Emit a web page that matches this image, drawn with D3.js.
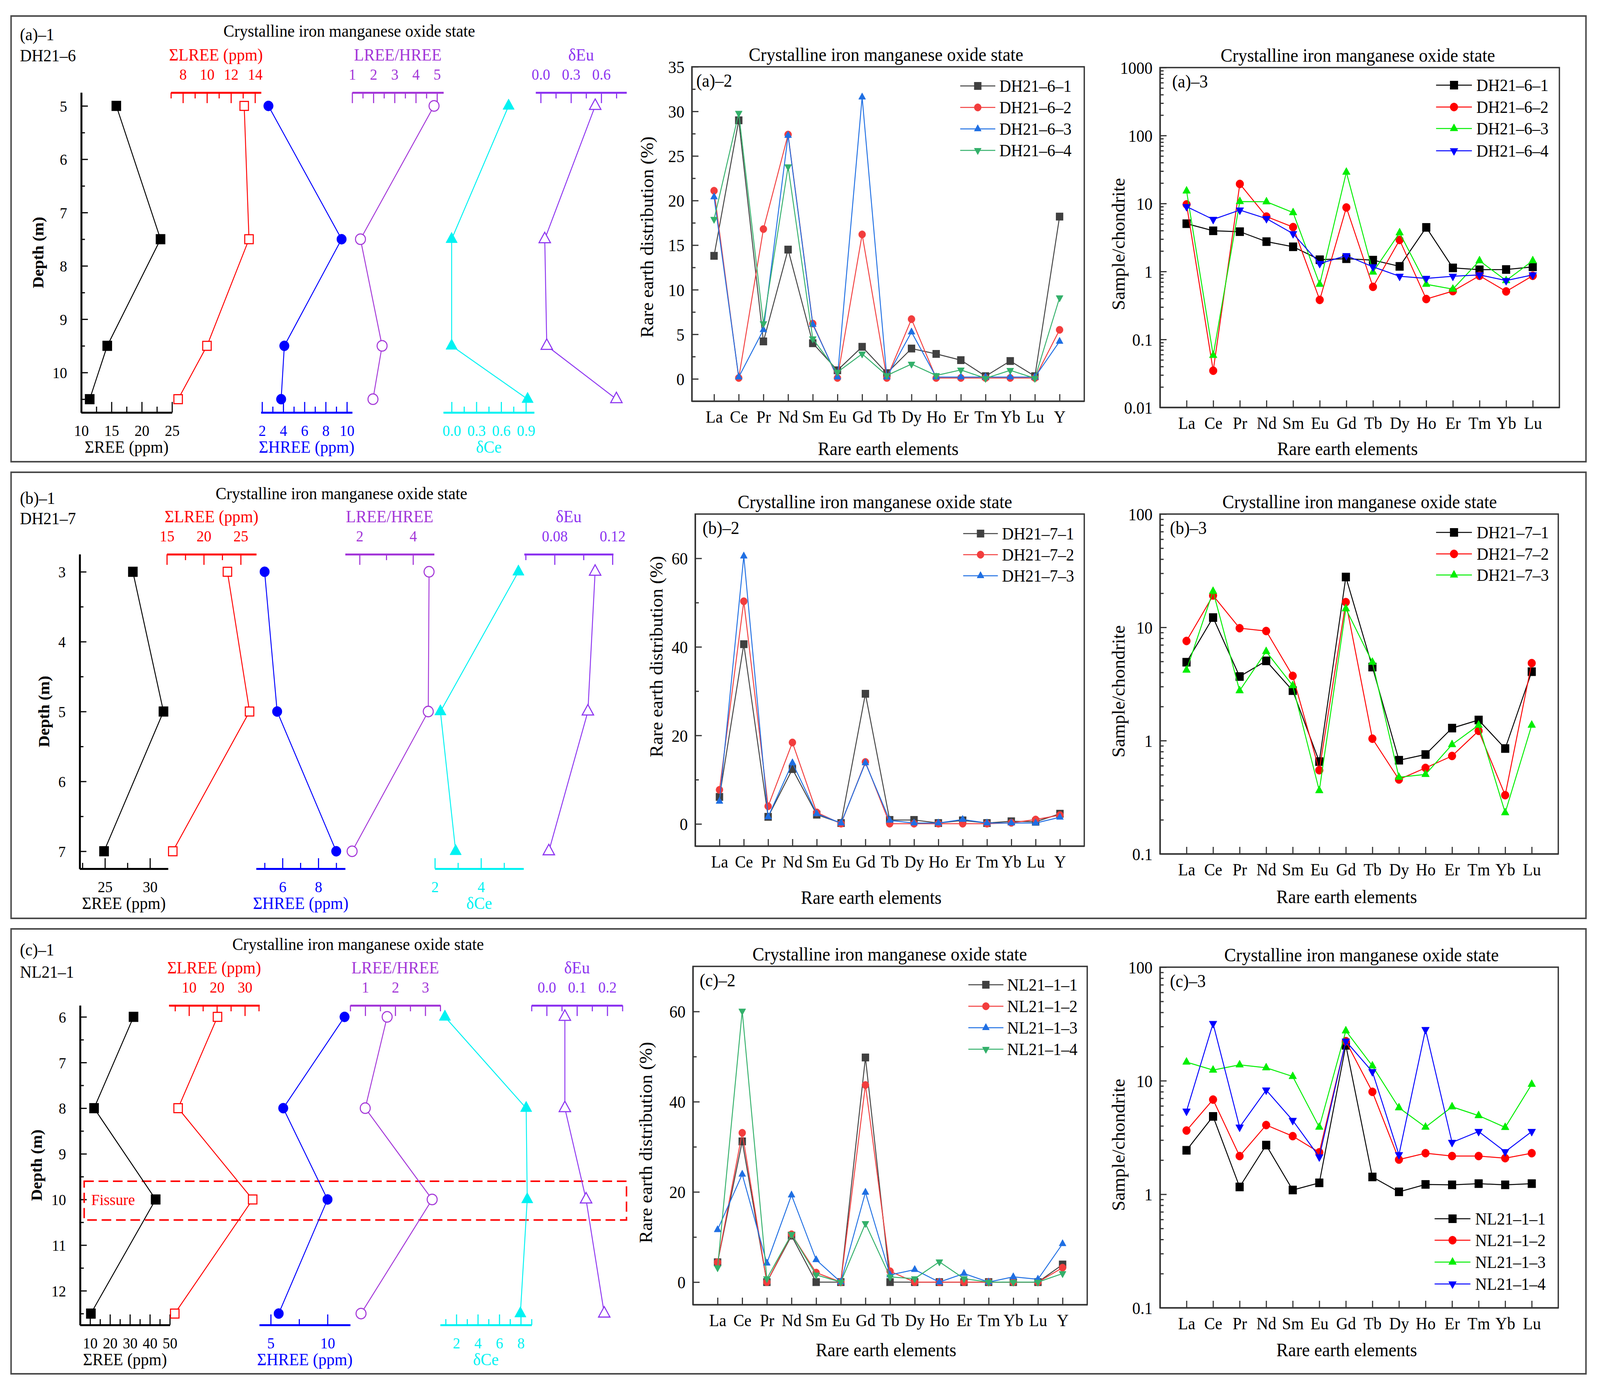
<!DOCTYPE html>
<html><head><meta charset="utf-8">
<script src="https://cdn.jsdelivr.net/npm/d3@7"></script>
<style>html,body{margin:0;padding:0;overflow:hidden;background:#fff}svg{display:block;width:100vw;height:100vh}</style>
</head><body>
<svg id="c" viewBox="0 0 4334 3561" preserveAspectRatio="none"></svg>
<script>
// ---------------- DATA ----------------
const elements15 = ["La","Ce","Pr","Nd","Sm","Eu","Gd","Tb","Dy","Ho","Er","Tm","Yb","Lu","Y"];
const elements14 = ["La","Ce","Pr","Nd","Sm","Eu","Gd","Tb","Dy","Ho","Er","Tm","Yb","Lu"];

// (a)-1 DH21-6 depth profiles
const depthA = [5, 7.5, 9.5, 10.5];
const reeA   = [15.8, 23.1, 14.3, 11.4];
const lreeA  = [13.1, 13.5, 10.0, 7.6];
const hreeA  = [2.6, 9.5, 4.1, 3.8];
const ratioA = [4.86, 1.39, 2.41, 1.98];
const ceA    = [0.69, 0.0, 0.0, 0.92];
const euA    = [0.54, 0.04, 0.06, 0.75];

// (b)-1 DH21-7 depth profiles
const depthB = [3, 5, 7];
const reeB   = [28.1, 31.5, 24.9];
const lreeB  = [23.2, 26.2, 15.8];
const hreeB  = [5.0, 5.7, 9.0];
const ratioB = [4.6, 4.57, 1.72];
const ceB    = [5.62, 2.24, 2.9];
const euB    = [0.108, 0.103, 0.076];

// (c)-1 NL21-1 depth profiles
const depthC = [6, 8, 10, 12.5];
const reeC   = [31.8, 12.0, 42.9, 10.4];
const lreeC  = [20.2, 6.1, 32.8, 4.9];
const hreeC  = [11.5, 6.1, 10.0, 5.7];
const ratioC = [1.73, 1.0, 3.23, 0.86];
const ceC    = [0.93, 8.5, 8.6, 7.96];
const euC    = [0.06, 0.06, 0.13, 0.19];
const fissureDepth = [9.6, 10.45];

// (a)-2 distribution (%)
const dA2_1 = [13.8, 29.0, 4.2, 14.5, 4.0, 0.96, 3.6, 0.64, 3.4, 2.8, 2.1, 0.3, 2.0, 0.3, 18.2];
const dA2_2 = [21.1, 0.1, 16.8, 27.4, 6.2, 0.1, 16.2, 0.1, 6.7, 0.1, 0.1, 0.1, 0.1, 0.1, 5.5];
const dA2_3 = [20.4, 0.2, 5.5, 27.3, 6.1, 0.2, 31.6, 0.2, 5.25, 0.2, 0.2, 0.2, 0.2, 0.2, 4.2];
const dA2_4 = [17.9, 29.8, 6.2, 23.8, 4.5, 0.76, 2.8, 0.38, 1.66, 0.38, 1.0, 0.06, 0.96, 0.06, 9.1];
// (a)-3 chondrite normalised
const nA3_1 = [5.05, 3.97, 3.85, 2.75, 2.31, 1.49, 1.54, 1.47, 1.19, 4.45, 1.13, 1.06, 1.07, 1.17];
const nA3_2 = [9.7, 0.0347, 19.4, 6.42, 4.5, 0.382, 8.74, 0.594, 2.91, 0.393, 0.514, 0.865, 0.509, 0.865];
const nA3_3 = [15.3, 0.0583, 10.7, 10.6, 7.35, 0.648, 28.9, 0.98, 3.71, 0.648, 0.55, 1.44, 0.735, 1.44];
const nA3_4 = [9.0, 5.83, 8.0, 6.0, 3.6, 1.31, 1.71, 1.17, 0.85, 0.79, 0.85, 0.89, 0.735, 0.89];

// (b)-2
const dB2_1 = [6.1, 40.6, 1.6, 12.4, 2.1, 0.2, 29.4, 0.9, 0.9, 0.2, 0.8, 0.2, 0.6, 0.5, 2.3];
const dB2_2 = [7.7, 50.3, 4.0, 18.4, 2.6, 0.06, 14.0, 0.06, 0.06, 0.06, 0.06, 0.06, 0.26, 1.0, 2.0];
const dB2_3 = [5.1, 60.5, 1.6, 13.8, 2.3, 0.2, 13.8, 0.8, 0.2, 0.2, 1.0, 0.2, 0.2, 0.2, 1.5];
// (b)-3
const nB3_1 = [4.92, 12.2, 3.68, 5.06, 2.76, 0.653, 27.8, 4.46, 0.671, 0.754, 1.29, 1.52, 0.851, 4.06];
const nB3_2 = [7.58, 19.1, 9.83, 9.28, 3.73, 0.548, 16.7, 1.04, 0.454, 0.574, 0.732, 1.22, 0.330, 4.83];
const nB3_3 = [4.19, 20.8, 2.76, 6.12, 3.06, 0.362, 14.6, 4.92, 0.475, 0.503, 0.923, 1.37, 0.231, 1.37];

// (c)-2
const dC2_1 = [4.4, 31.2, 0, 10.3, 0, 0, 49.8, 0, 0, 0, 0, 0, 0, 0, 3.9];
const dC2_2 = [4.4, 33.1, 0, 10.6, 2.1, 0, 43.7, 2.4, 0, 0, 0, 0, 0, 0, 3.2];
const dC2_3 = [11.6, 23.9, 4.2, 19.3, 4.95, 0, 19.9, 1.6, 2.77, 0, 1.9, 0, 1.16, 0.64, 8.5];
const dC2_4 = [3.2, 60.1, 0.77, 10.6, 1.6, 0, 13.0, 1.16, 0.77, 4.5, 0.77, 0, 0, 0, 1.9];
// (c)-3
const nC3_1 = [2.44, 4.85, 1.16, 2.71, 1.09, 1.26, 20.5, 1.42, 1.05, 1.22, 1.21, 1.24, 1.21, 1.24];
const nC3_2 = [3.64, 6.82, 2.17, 4.07, 3.25, 2.34, 22.3, 7.98, 2.02, 2.30, 2.17, 2.17, 2.08, 2.30];
const nC3_3 = [14.6, 12.4, 13.8, 13.0, 10.9, 3.90, 27.5, 13.5, 5.78, 3.90, 5.89, 4.93, 3.88, 9.30];
const nC3_4 = [5.39, 31.9, 3.90, 8.27, 4.47, 2.13, 22.3, 12.0, 2.23, 28.2, 2.86, 3.57, 2.37, 3.57];

// tick values
const pctTicks35 = [0, 5, 10, 15, 20, 25, 30, 35];
const pctMinor35 = [2.5, 7.5, 12.5, 17.5, 22.5, 27.5, 32.5];
const pctTicks70 = [0, 20, 40, 60];
const pctMinor70 = [10, 30, 50];
const logTicks3 = [0.01, 0.1, 1, 10, 100, 1000];
const logTicks2 = [0.1, 1, 10, 100];

// ---------------- DRAWING ----------------
const FONT = "'Liberation Serif','Times New Roman',serif";
const AXIS = "#333333";
const RED = "#ff0000", BLUE = "#0000ff", PURP = "#a336d8", VIOL = "#8c33f0", CYAN = "#00f2f2";
const svg = d3.select("#c");

function marker(g, type, x, y, s, color, open) {
  let el;
  if (type === "square") el = g.append("rect").attr("x", x - s/2).attr("y", y - s/2).attr("width", s).attr("height", s);
  else if (type === "circle") el = g.append("circle").attr("cx", x).attr("cy", y).attr("r", s/2);
  else {
    const h = s * 0.866, u = type === "triUp" ? 1 : -1;
    const pts = [[x, y - u*h*2/3], [x - s/2, y + u*h/3], [x + s/2, y + u*h/3]];
    el = g.append("path").attr("d", "M" + pts.map(p => p.join(",")).join("L") + "Z");
  }
  el.attr("fill", open ? "#fff" : color).attr("stroke", color).attr("stroke-width", open ? 2.8 : 1);
}

function styleAxis(g, color, fs, sw) {
  g.attr("font-family", FONT).attr("font-size", fs).style("color", color);
  g.select(".domain").attr("stroke-width", sw);
  g.selectAll(".tick line").attr("stroke-width", 3);
}

function txt(g, x, y, s, o = {}) {
  const t = g.append("text").attr("x", x).attr("y", y).attr("dy", "0.35em")
    .attr("font-family", FONT).attr("font-size", o.fs || 44).attr("fill", o.color || "#000")
    .attr("text-anchor", o.anchor || "middle").text(s);
  if (o.bold) t.attr("font-weight", "bold");
  if (o.rot) t.attr("transform", `rotate(-90,${x},${y})`);
  return t;
}

function depthPanel(p) {
  const g = svg.append("g");
  const y = d3.scaleLinear().domain(p.depthDomain).range([p.yTop, p.yBot]);
  const dm = g.append("g").attr("transform", `translate(${p.x0},0)`)
    .call(d3.axisLeft(y).tickValues(p.depthMinor).tickSize(-10).tickSizeOuter(0).tickFormat(""));
  styleAxis(dm, "#000", 40, 5);
  const dM = g.append("g").attr("transform", `translate(${p.x0},0)`)
    .call(d3.axisLeft(y).tickValues(p.depthMajor).tickSize(-18).tickSizeOuter(0).tickFormat(d3.format("d")));
  styleAxis(dM, "#000", 40, 5);
  dM.selectAll(".tick text").attr("x", -38).attr("dy", "0.35em");
  txt(g, p.depthLabelX, (p.yTop + p.yBot) / 2, "Depth (m)", {fs: 42, bold: true, rot: true});
  txt(g, p.titleX, p.titleY, "Crystalline iron manganese oxide state", {fs: 44});
  txt(g, 54, p.labY[0], p.label, {anchor: "start"});
  txt(g, 54, p.labY[1], p.site, {anchor: "start"});

  if (p.fissure) {
    g.append("rect").attr("x", 228).attr("y", y(p.fissure[0])).attr("width", 1697 - 228)
      .attr("height", y(p.fissure[1]) - y(p.fissure[0])).attr("fill", "none")
      .attr("stroke", RED).attr("stroke-width", 4).attr("stroke-dasharray", "26,13");
    txt(g, 247, y(10), "Fissure", {anchor: "start", color: RED, fs: 41});
  }

  p.tracks.forEach(t => {
    const x = d3.scaleLinear().domain(t.domain).range(t.range);
    const top = t.side === "top";
    const ay = top ? p.yTop : p.yBot;
    const af = top ? d3.axisTop : d3.axisBottom;
    const mi = g.append("g").attr("transform", `translate(0,${ay})`)
      .call(af(x).tickValues(t.minor).tickSize(-15).tickSizeOuter(0).tickFormat(""));
    styleAxis(mi, t.color, 40, 5);
    const ma = g.append("g").attr("transform", `translate(0,${ay})`)
      .call(af(x).tickValues(t.major).tickSize(-27).tickSizeOuter(0).tickFormat(d3.format(t.fmt)));
    styleAxis(ma, t.color, 40, 5);
    ma.selectAll(".tick text").attr("y", top ? -47 : 46).attr("dy", "0.35em");
    txt(g, (t.range[0] + t.range[1]) / 2, top ? ay - 97 : ay + 88, t.title, {color: t.color, fs: 44});
    g.append("path").datum(t.values).attr("fill", "none").attr("stroke", t.color).attr("stroke-width", 2.5)
      .attr("d", d3.line().x(d => x(d)).y((d, i) => y(p.depths[i])));
    t.values.forEach((v, i) => marker(g, t.marker, x(v), y(p.depths[i]), t.ms, t.color, t.open));
  });
}

function lineChart(c) {
  const g = svg.append("g");
  const x = d3.scaleLinear().domain(c.xDomain).range([c.x0, c.x1]);
  const y = (c.log ? d3.scaleLog() : d3.scaleLinear()).domain(c.yDomain).range([c.y1, c.y0]);
  g.append("rect").attr("x", c.x0).attr("y", c.y0).attr("width", c.x1 - c.x0).attr("height", c.y1 - c.y0)
    .attr("fill", "none").attr("stroke", AXIS).attr("stroke-width", 3.5);
  let minor = c.yMinor;
  if (c.log) {
    minor = [];
    for (let e = Math.log10(c.yDomain[0]); e < Math.log10(c.yDomain[1]) - 0.01; e++)
      for (let m = 2; m <= 9; m++) minor.push(m * Math.pow(10, e));
  }
  const ym = g.append("g").attr("transform", `translate(${c.x0},0)`)
    .call(d3.axisLeft(y).tickValues(minor).tickSize(-10).tickSizeOuter(0).tickFormat(""));
  styleAxis(ym, AXIS, 44, 3.5);
  const yM = g.append("g").attr("transform", `translate(${c.x0},0)`)
    .call(d3.axisLeft(y).tickValues(c.yMajor).tickSize(-18).tickSizeOuter(0).tickFormat(v => String(v)));
  styleAxis(yM, AXIS, 44, 3.5);
  yM.selectAll(".tick text").attr("x", -20).attr("dy", "0.35em").attr("fill", "#000");
  const xa = g.append("g").attr("transform", `translate(0,${c.y1})`)
    .call(d3.axisBottom(x).tickValues(d3.range(1, c.cats.length + 1)).tickSize(-18).tickSizeOuter(0)
      .tickFormat(i => c.cats[i - 1]));
  styleAxis(xa, AXIS, 44, 3.5);
  xa.selectAll(".tick text").attr("y", 40).attr("dy", "0.35em").attr("fill", "#000");

  txt(g, c.titleX, c.y0 - 32, "Crystalline iron manganese oxide state", {fs: 48});
  txt(g, c.labelX, c.y0 + 35, c.label, {anchor: "start", fs: 46});
  txt(g, c.ylabelPos[0], c.ylabelPos[1], c.ylabel, {fs: 48, rot: true});
  txt(g, c.xtitlePos[0], c.xtitlePos[1], "Rare earth elements", {fs: 48});

  c.series.forEach((s, k) => {
    g.append("path").datum(s.values).attr("fill", "none").attr("stroke", s.color).attr("stroke-width", 2.5)
      .attr("d", d3.line().x((d, i) => x(i + 1)).y(d => y(d)));
    s.values.forEach((v, i) => marker(g, s.marker, x(i + 1), y(v), c.ms, s.color, false));
  });
  c.series.forEach((s, k) => {
    const ly = c.legY[k];
    g.append("line").attr("x1", c.legX[0]).attr("x2", c.legX[1]).attr("y1", ly).attr("y2", ly)
      .attr("stroke", s.color).attr("stroke-width", 2.5);
    marker(g, s.marker, (c.legX[0] + c.legX[1]) / 2, ly, c.ms, s.color, false);
    txt(g, c.legX[2], ly, s.name, {anchor: "start", fs: 44});
  });
}

// row frames
[[41, 1182], [1209, 2351], [2378, 3517]].forEach(r => {
  svg.append("rect").attr("x", 30).attr("y", r[0]).attr("width", 4296 - 30).attr("height", r[1] - r[0])
    .attr("fill", "none").attr("stroke", "#4a4a4a").attr("stroke-width", 4);
});

const MS = 25;
depthPanel({
  x0: 220, yTop: 237, yBot: 1056, depthDomain: [4.75, 10.75], depths: depthA,
  depthMajor: [5, 6, 7, 8, 9, 10], depthMinor: [5.5, 6.5, 7.5, 8.5, 9.5, 10.5],
  depthLabelX: 103, titleX: 946, titleY: 79, labY: [88, 142], label: "(a)–1", site: "DH21–6",
  tracks: [
    {title: "ΣREE (ppm)", side: "bottom", range: [220, 466], domain: [10, 25], major: [10, 15, 20, 25], minor: [12.5, 17.5, 22.5], fmt: "d", color: "#000", values: reeA, marker: "square", ms: MS, open: false},
    {title: "ΣLREE (ppm)", side: "top", range: [463, 707], domain: [7, 14.5], major: [8, 10, 12, 14], minor: [7, 9, 11, 13], fmt: "d", color: RED, values: lreeA, marker: "square", ms: 23, open: true},
    {title: "ΣHREE (ppm)", side: "bottom", range: [707, 954], domain: [1.9, 10.5], major: [2, 4, 6, 8, 10], minor: [3, 5, 7, 9], fmt: "d", color: BLUE, values: hreeA, marker: "circle", ms: 26, open: false},
    {title: "LREE/HREE", side: "top", range: [954, 1201], domain: [1, 5.3], major: [1, 2, 3, 4, 5], minor: [1.5, 2.5, 3.5, 4.5], fmt: "d", color: PURP, values: ratioA, marker: "circle", ms: 27, open: true},
    {title: "δCe", side: "bottom", range: [1201, 1447], domain: [-0.1, 1.0], major: [0, 0.3, 0.6, 0.9], minor: [0.15, 0.45, 0.75], fmt: ".1f", color: CYAN, values: ceA, marker: "triUp", ms: 31, open: false},
    {title: "δEu", side: "top", range: [1451, 1697], domain: [-0.05, 0.85], major: [0, 0.3, 0.6], minor: [0.15, 0.45, 0.75], fmt: ".1f", color: VIOL, values: euA, marker: "triUp", ms: 31, open: true}
  ]
});

depthPanel({
  x0: 216, yTop: 1419, yBot: 2224, depthDomain: [2.75, 7.25], depths: depthB,
  depthMajor: [3, 4, 5, 6, 7], depthMinor: [3.5, 4.5, 5.5, 6.5],
  depthLabelX: 119, titleX: 925, titleY: 1263, labY: [1275, 1327], label: "(b)–1", site: "DH21–7",
  tracks: [
    {title: "ΣREE (ppm)", side: "bottom", range: [216, 455], domain: [22.2, 32], major: [25, 30], minor: [22.5, 27.5], fmt: "d", color: "#000", values: reeB, marker: "square", ms: MS, open: false},
    {title: "ΣLREE (ppm)", side: "top", range: [452, 694], domain: [15, 27.1], major: [15, 20, 25], minor: [17.5, 22.5], fmt: "d", color: RED, values: lreeB, marker: "square", ms: 23, open: true},
    {title: "ΣHREE (ppm)", side: "bottom", range: [694, 935], domain: [4.53, 9.5], major: [6, 8], minor: [5, 7, 9], fmt: "d", color: BLUE, values: hreeB, marker: "circle", ms: 26, open: false},
    {title: "LREE/HREE", side: "top", range: [935, 1176], domain: [1.46, 4.79], major: [2, 4], minor: [3], fmt: "d", color: PURP, values: ratioB, marker: "circle", ms: 27, open: true},
    {title: "δCe", side: "bottom", range: [1178, 1418], domain: [2, 5.84], major: [2, 4], minor: [3, 5], fmt: "d", color: CYAN, values: ceB, marker: "triUp", ms: 31, open: false},
    {title: "δEu", side: "top", range: [1420, 1661], domain: [0.059, 0.1205], major: [0.08, 0.12], minor: [0.06, 0.10], fmt: ".2f", color: VIOL, values: euB, marker: "triUp", ms: 31, open: true}
  ]
});

depthPanel({
  x0: 217, yTop: 2574, yBot: 3392, depthDomain: [5.75, 12.75], depths: depthC, fissure: fissureDepth,
  depthMajor: [6, 7, 8, 9, 10, 11, 12], depthMinor: [6.5, 7.5, 8.5, 9.5, 10.5, 11.5, 12.5],
  depthLabelX: 98, titleX: 970, titleY: 2417, labY: [2431, 2488], label: "(c)–1", site: "NL21–1",
  tracks: [
    {title: "ΣREE (ppm)", side: "bottom", range: [217, 460], domain: [5, 50], major: [10, 20, 30, 40, 50], minor: [15, 25, 35, 45], fmt: "d", color: "#000", values: reeC, marker: "square", ms: MS, open: false},
    {title: "ΣLREE (ppm)", side: "top", range: [457.5, 702.6], domain: [2.8, 35.2], major: [10, 20, 30], minor: [5, 15, 25, 35], fmt: "d", color: RED, values: lreeC, marker: "square", ms: 23, open: true},
    {title: "ΣHREE (ppm)", side: "bottom", range: [702.6, 948.7], domain: [4, 12], major: [5, 10], minor: [7.5], fmt: "d", color: BLUE, values: hreeC, marker: "circle", ms: 26, open: false},
    {title: "LREE/HREE", side: "top", range: [948.7, 1192.6], domain: [0.5, 3.5], major: [1, 2, 3], minor: [0.5, 1.5, 2.5, 3.5], fmt: "d", color: PURP, values: ratioC, marker: "circle", ms: 27, open: true},
    {title: "δCe", side: "bottom", range: [1192.6, 1439.8], domain: [0.5, 9], major: [2, 4, 6, 8], minor: [1, 3, 5, 7, 9], fmt: "d", color: CYAN, values: ceC, marker: "triUp", ms: 31, open: false},
    {title: "δEu", side: "top", range: [1439.8, 1686], domain: [-0.05, 0.25], major: [0, 0.1, 0.2], minor: [-0.05, 0.05, 0.15, 0.25], fmt: ".1f", color: VIOL, values: euC, marker: "triUp", ms: 31, open: true}
  ]
});

const G2 = ["#404040", "#f23d3d", "#1f6fe3", "#33b06a"];
const G3 = ["#000000", "#ff0000", "#00ee00", "#0000ff"];
const MK = ["square", "circle", "triUp", "triDown"];

lineChart({
  x0: 1874, x1: 2937, y0: 171, y1: 1027, xDomain: [0.1, 16], yDomain: [-2.5, 35],
  yMajor: pctTicks35, yMinor: pctMinor35, cats: elements15, ms: 19,
  titleX: 2400, label: "(a)–2", labelX: 1886, ylabel: "Rare earth distribution (%)",
  ylabelPos: [1752, 607], xtitlePos: [2406, 1148],
  legX: [2601, 2696, 2707], legY: [220, 275, 330, 385],
  series: [dA2_1, dA2_2, dA2_3, dA2_4].map((v, i) => ({name: "DH21–6–" + (i + 1), values: v, color: G2[i], marker: MK[i]}))
});
lineChart({
  x0: 3142, x1: 4224, y0: 173, y1: 1043, xDomain: [0, 15], yDomain: [0.01, 1000], log: true,
  yMajor: logTicks3, cats: elements14, ms: 21,
  titleX: 3678, label: "(a)–3", labelX: 3175, ylabel: "Sample/chondrite",
  ylabelPos: [3029, 625], xtitlePos: [3650, 1148],
  legX: [3890, 3987, 3999], legY: [218, 274, 329, 386],
  series: [nA3_1, nA3_2, nA3_3, nA3_4].map((v, i) => ({name: "DH21–6–" + (i + 1), values: v, color: G3[i], marker: MK[i]}))
});

lineChart({
  x0: 1883, x1: 2937, y0: 1316, y1: 2166, xDomain: [0, 16], yDomain: [-5, 70],
  yMajor: pctTicks70, yMinor: pctMinor70, cats: elements15, ms: 19,
  titleX: 2370, label: "(b)–2", labelX: 1903, ylabel: "Rare earth distribution (%)",
  ylabelPos: [1778, 1681], xtitlePos: [2360, 2297],
  legX: [2609, 2703, 2714], legY: [1366, 1420, 1474],
  series: [dB2_1, dB2_2, dB2_3].map((v, i) => ({name: "DH21–7–" + (i + 1), values: v, color: G2[i], marker: MK[i]}))
});
lineChart({
  x0: 3142, x1: 4221, y0: 1316, y1: 2186, xDomain: [0, 15], yDomain: [0.1, 100], log: true,
  yMajor: logTicks2, cats: elements14, ms: 21,
  titleX: 3683, label: "(b)–3", labelX: 3169, ylabel: "Sample/chondrite",
  ylabelPos: [3029, 1770], xtitlePos: [3648, 2295],
  legX: [3890, 3987, 4000], legY: [1363, 1418, 1472],
  series: [nB3_1, nB3_2, nB3_3].map((v, i) => ({name: "DH21–7–" + (i + 1), values: v, color: G3[i], marker: MK[i]}))
});

lineChart({
  x0: 1877, x1: 2945, y0: 2474, y1: 3340, xDomain: [0, 16], yDomain: [-5, 70],
  yMajor: pctTicks70, yMinor: pctMinor70, cats: elements15, ms: 19,
  titleX: 2410, label: "(c)–2", labelX: 1895, ylabel: "Rare earth distribution (%)",
  ylabelPos: [1749, 2925], xtitlePos: [2400, 3455],
  legX: [2623, 2718, 2728], legY: [2521, 2576, 2631, 2686],
  series: [dC2_1, dC2_2, dC2_3, dC2_4].map((v, i) => ({name: "NL21–1–" + (i + 1), values: v, color: G2[i], marker: MK[i]}))
});
lineChart({
  x0: 3142, x1: 4221, y0: 2476, y1: 3348, xDomain: [0, 15], yDomain: [0.1, 100], log: true,
  yMajor: logTicks2, cats: elements14, ms: 21,
  titleX: 3688, label: "(c)–3", labelX: 3169, ylabel: "Sample/chondrite",
  ylabelPos: [3029, 2931], xtitlePos: [3648, 3455],
  legX: [3886, 3983, 3996], legY: [3120, 3175, 3231, 3287],
  series: [nC3_1, nC3_2, nC3_3, nC3_4].map((v, i) => ({name: "NL21–1–" + (i + 1), values: v, color: G3[i], marker: MK[i]}))
});
</script>
</body></html>
